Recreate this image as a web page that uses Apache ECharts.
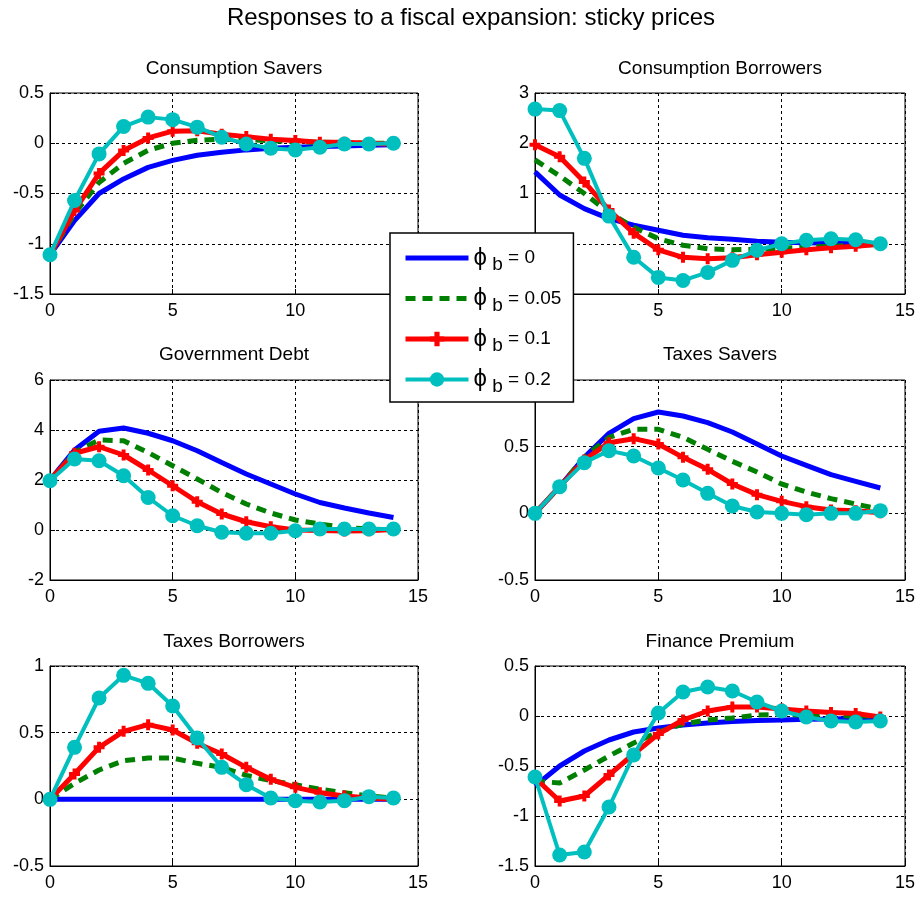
<!DOCTYPE html>
<html><head><meta charset="utf-8">
<script src="https://cdn.jsdelivr.net/npm/echarts@6/dist/echarts.min.js"></script>
<style>html,body{margin:0;padding:0;background:#fff}#c{width:922px;height:897px}</style>
</head><body><div id="c"></div>
<script>
const periods = [0,1,2,3,4,5,6,7,8,9,10,11,12,13,14];
const phiLabels = ['0','0.05','0.1','0.2'];
const panelTitles = ['Consumption Savers','Consumption Borrowers','Government Debt','Taxes Savers','Taxes Borrowers','Finance Premium'];
const mainTitle = 'Responses to a fiscal expansion: sticky prices';
const xTicks = [0,5,10,15];

// Consumption Savers
const csPhi0   = [-1.11,-0.77,-0.50,-0.355,-0.24,-0.17,-0.12,-0.09,-0.066,-0.05,-0.04,-0.033,-0.027,-0.02,-0.015];
const csPhi005 = [-1.11,-0.70,-0.39,-0.20,-0.07,0.0,0.03,0.04,0.035,0.025,0.015,0.01,0.005,0.0,0.0];
const csPhi01  = [-1.11,-0.67,-0.30,-0.073,0.053,0.12,0.125,0.09,0.066,0.04,0.027,0.01,0.01,0.0,-0.01];
const csPhi02  = [-1.11,-0.57,-0.106,0.166,0.26,0.235,0.16,0.06,-0.007,-0.05,-0.066,-0.04,-0.007,-0.007,0.0];
// Consumption Borrowers
const cbPhi0   = [1.43,0.97,0.70,0.50,0.37,0.27,0.17,0.12,0.09,0.05,0.03,0.02,0.01,0.005,0.0];
const cbPhi005 = [1.67,1.35,1.0,0.62,0.33,0.10,-0.03,-0.10,-0.12,-0.11,-0.09,-0.07,-0.05,-0.03,-0.01];
const cbPhi01  = [1.97,1.73,1.23,0.67,0.21,-0.12,-0.27,-0.30,-0.28,-0.22,-0.17,-0.12,-0.08,-0.05,-0.01];
const cbPhi02  = [2.68,2.65,1.70,0.55,-0.27,-0.67,-0.73,-0.57,-0.33,-0.13,0.0,0.07,0.10,0.08,0.0];
// Government Debt
const gdPhi0   = [2.0,3.2,3.95,4.08,3.87,3.57,3.17,2.7,2.24,1.84,1.44,1.1,0.88,0.68,0.5];
const gdPhi005 = [2.0,3.1,3.6,3.57,3.1,2.57,2.04,1.5,1.04,0.68,0.4,0.24,0.1,0.04,0.0];
const gdPhi01  = [2.0,3.07,3.33,3.0,2.4,1.77,1.13,0.64,0.33,0.13,0.0,-0.02,-0.04,-0.03,0.02];
const gdPhi02  = [1.97,2.84,2.77,2.17,1.3,0.57,0.17,-0.09,-0.13,-0.13,-0.03,0.04,0.04,0.04,0.04];
// Taxes Savers
const tsPhi0   = [0,0.2,0.42,0.6,0.71,0.76,0.73,0.68,0.61,0.52,0.43,0.36,0.29,0.24,0.19];
const tsPhi005 = [0,0.2,0.42,0.57,0.63,0.63,0.57,0.48,0.39,0.31,0.22,0.16,0.11,0.07,0.03];
const tsPhi01  = [0,0.2,0.4,0.53,0.56,0.52,0.42,0.33,0.22,0.14,0.09,0.05,0.025,0.02,0.005];
const tsPhi02  = [0,0.2,0.38,0.47,0.43,0.34,0.25,0.15,0.055,0.01,0.0,-0.01,0.0,0.0,0.02];
// Taxes Borrowers
const tbPhi0   = [0,0,0,0,0,0,0,0,0,0,0,0,0,0,0];
const tbPhi005 = [0,0.12,0.22,0.29,0.31,0.31,0.27,0.24,0.18,0.14,0.11,0.075,0.05,0.025,0.01];
const tbPhi01  = [0,0.19,0.39,0.51,0.56,0.52,0.42,0.34,0.24,0.15,0.09,0.05,0.025,0.01,0.0];
const tbPhi02  = [0,0.39,0.76,0.93,0.87,0.70,0.46,0.24,0.11,0.01,-0.01,-0.02,-0.01,0.02,0.01];
// Finance Premium
const fpPhi0   = [-0.7,-0.5,-0.35,-0.24,-0.16,-0.12,-0.09,-0.07,-0.056,-0.046,-0.04,-0.033,-0.03,-0.025,-0.02];
const fpPhi005 = [-0.65,-0.67,-0.54,-0.4,-0.27,-0.16,-0.08,-0.04,-0.02,0.01,0.015,0.01,0.005,0.0,0.0];
const fpPhi01  = [-0.62,-0.85,-0.8,-0.59,-0.38,-0.18,-0.04,0.05,0.09,0.09,0.07,0.05,0.035,0.025,-0.01];
const fpPhi02  = [-0.61,-1.39,-1.36,-0.91,-0.39,0.03,0.24,0.29,0.25,0.14,0.05,-0.01,-0.05,-0.06,-0.05];

const yMin = [-1.5,-1,-2,-0.5,-0.5,-1.5];
const yMax = [0.5,3,6,1,1,0.5];
const yStep = [0.5,1,2,0.5,0.5,0.5];

const panelData = [
  [csPhi0,csPhi005,csPhi01,csPhi02],
  [cbPhi0,cbPhi005,cbPhi01,cbPhi02],
  [gdPhi0,gdPhi005,gdPhi01,gdPhi02],
  [tsPhi0,tsPhi005,tsPhi01,tsPhi02],
  [tbPhi0,tbPhi005,tbPhi01,tbPhi02],
  [fpPhi0,fpPhi005,fpPhi01,fpPhi02]
];

const FONT = "'Liberation Sans', Arial, Helvetica, sans-serif";
const gridPos = [
  {left:50, top:93, width:368, height:201},
  {left:535, top:93, width:370, height:201},
  {left:50, top:380, width:368, height:200},
  {left:535, top:380, width:370, height:200},
  {left:50, top:666, width:368, height:200},
  {left:535, top:666, width:370, height:200}
];
const titleTops = [59, 59, 345, 345, 632, 632];

const seriesNames = phiLabels.map(v => 'ϕ b = ' + v);
const plusPath = 'path://M3.2,0H6.8V3.2H10V6.8H6.8V10H3.2V6.8H0V3.2H3.2Z';
const styles = [
  {color:'#0000FF', width:5, type:'solid', symbol:'none', size:0},
  {color:'#008000', width:5, type:[10,7], symbol:'none', size:0},
  {color:'#FF0000', width:5, type:'solid', symbol:plusPath, size:11},
  {color:'#00BFBF', width:4, type:'solid', symbol:'circle', size:15}
];

const grids = [], xAxes = [], yAxes = [], series = [];
const titles = [{
  text: mainTitle, left: 471, top: 6, textAlign: 'center', padding: 0,
  textStyle: {fontFamily: FONT, fontSize: 24, fontWeight: 'normal', color: '#000'}
}];
gridPos.forEach((g, i) => {
  grids.push(Object.assign({show:true, borderColor:'#000', borderWidth:1, backgroundColor:'#fff', containLabel:false}, g));
  titles.push({
    text: panelTitles[i], left: g.left + g.width/2, top: titleTops[i], textAlign: 'center', padding: 0,
    textStyle: {fontFamily: FONT, fontSize: 19, fontWeight: 'normal', color: '#000'}
  });
  xAxes.push({
    type:'value', gridIndex:i, min:xTicks[0], max:xTicks[xTicks.length-1], interval:5,
    axisLine:{show:true, onZero:false, lineStyle:{color:'#000', width:1}},
    axisTick:{show:true, inside:true, length:5, lineStyle:{color:'#000'}},
    axisLabel:{color:'#000', fontSize:18, fontFamily:FONT, margin:8},
    splitLine:{show:true, lineStyle:{color:'#000', width:1, type:[3,3]}}
  });
  yAxes.push({
    type:'value', gridIndex:i, min:yMin[i], max:yMax[i], interval:yStep[i],
    axisLine:{show:true, onZero:false, lineStyle:{color:'#000', width:1}},
    axisTick:{show:true, inside:true, length:5, lineStyle:{color:'#000'}},
    axisLabel:{color:'#000', fontSize:18, fontFamily:FONT, margin:6},
    splitLine:{show:true, lineStyle:{color:'#000', width:1, type:[3,3]}}
  });
  panelData[i].forEach((arr, k) => {
    const s = styles[k];
    series.push({
      type:'line', name: seriesNames[k], xAxisIndex:i, yAxisIndex:i,
      data: periods.map((t, j) => [t, arr[j]]),
      symbol: s.symbol, symbolSize: s.size, showSymbol: s.symbol !== 'none',
      lineStyle:{color:s.color, width:s.width, type:s.type},
      itemStyle:{color:s.color, borderColor:s.color, borderWidth:0},
      z: 2 + k, silent:true, animation:false, clip:true
    });
  });
});

const legendData = seriesNames.map((n, k) => {
  const s = styles[k];
  const item = {name: n, lineStyle: {width: s.width, color: s.color, type: s.type}};
  if (s.symbol === 'none') {
    item.itemStyle = {color: 'rgba(0,0,0,0)', borderColor: 'rgba(0,0,0,0)', borderWidth: 0, opacity: 0};
  } else {
    item.itemStyle = {color: s.color, borderWidth: 0};
  }
  return item;
});

const chart = echarts.init(document.getElementById('c'), null, {renderer:'canvas'});
chart.setOption({
  animation:false,
  backgroundColor:'#fff',
  title: titles,
  grid: grids,
  xAxis: xAxes,
  yAxis: yAxes,
  legend: {
    data: legendData,
    orient:'vertical', left:390, top:233,
    padding:[13,12,6,13], itemGap:12,
    itemWidth:63, itemHeight:18,
    backgroundColor:'#fff', borderColor:'#000', borderWidth:1.5,
    selectedMode:false,
    formatter: name => {
      const v = name.split('= ')[1];
      return '{p|ϕ}{s| b}{t| = ' + v + '}';
    },
    textStyle:{
      color:'#000', fontFamily:FONT, fontSize:19,
      rich:{
        p:{fontFamily:FONT, fontSize:24, color:'#000'},
        s:{fontFamily:FONT, fontSize:19, color:'#000', padding:[14,0,0,0]},
        t:{fontFamily:FONT, fontSize:19, color:'#000'}
      }
    },
    z: 10
  },
  series: series
});
</script>
</body></html>
